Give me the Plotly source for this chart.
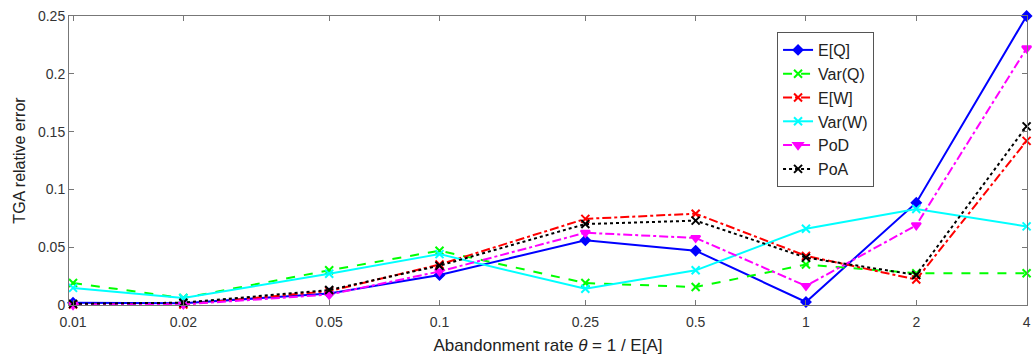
import math
import plotly.graph_objects as go

x_vals = [0.01, 0.02, 0.05, 0.1, 0.25, 0.5, 1, 2, 4]
x_labels = ["0.01", "0.02", "0.05", "0.1", "0.25", "0.5", "1", "2", "4"]

EQ = [0.002, 0.0015, 0.010, 0.026, 0.056, 0.047, 0.0026, 0.0885, 0.250]
VarQ = [0.019, 0.006, 0.030, 0.047, 0.019, 0.0155, 0.035, 0.0275, 0.0275]
EW = [0.0005, 0.0005, 0.012, 0.035, 0.0745, 0.079, 0.0425, 0.022, 0.142]
VarW = [0.0148, 0.006, 0.027, 0.044, 0.014, 0.030, 0.066, 0.083, 0.068]
PoD = [0.0, 0.0005, 0.009, 0.029, 0.0625, 0.058, 0.0165, 0.069, 0.222]
PoA = [0.001, 0.002, 0.013, 0.034, 0.070, 0.073, 0.041, 0.026, 0.1545]

y_ticks = [0, 0.05, 0.1, 0.15, 0.2, 0.25]
y_labels = ["0", "0.05", "0.1", "0.15", "0.2", "0.25"]

series = [
    ("E[Q]", EQ, "#0000ff", "solid", "diamond", 7),
    ("Var(Q)", VarQ, "#00ff00", "dash", "x-thin-open", 8),
    ("E[W]", EW, "#ff0000", "dashdot", "x-thin-open", 8),
    ("Var(W)", VarW, "#00ffff", "solid", "x-thin-open", 8),
    ("PoD", PoD, "#ff00ff", "dashdot", "triangle-down", 8),
    ("PoA", PoA, "#000000", "dot", "x-thin-open", 8),
]

fig = go.Figure()
for name, ys, col, dash, sym, size in series:
    fig.add_trace(go.Scatter(
        x=x_vals, y=ys, name=name, mode="lines+markers",
        line=dict(color=col, width=2, dash=dash),
        marker=dict(symbol=sym, size=size, color=col,
                    line=dict(color=col, width=2)),
        cliponaxis=False,
    ))

axis_color = "#777777"
fig.update_layout(
    width=1035, height=356,
    margin=dict(l=69, r=4, t=16, b=51),
    paper_bgcolor="white", plot_bgcolor="white",
    font=dict(family="Liberation Sans, Arial, sans-serif", color="#333333"),
    showlegend=True,
    legend=dict(
        x=(780 - 69) / (1031 - 69), y=1 - (32 - 16) / (305 - 16),
        xanchor="left", yanchor="top",
        bgcolor="white", bordercolor="#555555", borderwidth=1,
        font=dict(size=16, color="#222222"),
        tracegroupgap=0, itemwidth=30,
    ),
    xaxis=dict(
        type="log",
        range=[math.log10(0.00975), math.log10(4.01)],
        tickvals=x_vals, ticktext=x_labels,
        ticks="inside", ticklen=5, tickcolor=axis_color,
        showline=True, linecolor=axis_color, linewidth=1, mirror="ticks",
        showgrid=False, zeroline=False,
        ticklabelstandoff=4,
        tickfont=dict(size=14, color="#333333"),
        title=dict(text="Abandonment rate <i>θ</i> = 1 / E[A]",
                   font=dict(size=17, color="#222222"), standoff=10),
    ),
    yaxis=dict(
        range=[0, 0.25],
        tickvals=y_ticks, ticktext=y_labels,
        ticks="inside", ticklen=5, tickcolor=axis_color,
        showline=True, linecolor=axis_color, linewidth=1, mirror="ticks",
        showgrid=False, zeroline=False,
        tickfont=dict(size=14, color="#333333"),
        title=dict(text="TGA relative error",
                   font=dict(size=16, color="#222222"), standoff=8),
    ),
)

fig.write_html("out.html")
